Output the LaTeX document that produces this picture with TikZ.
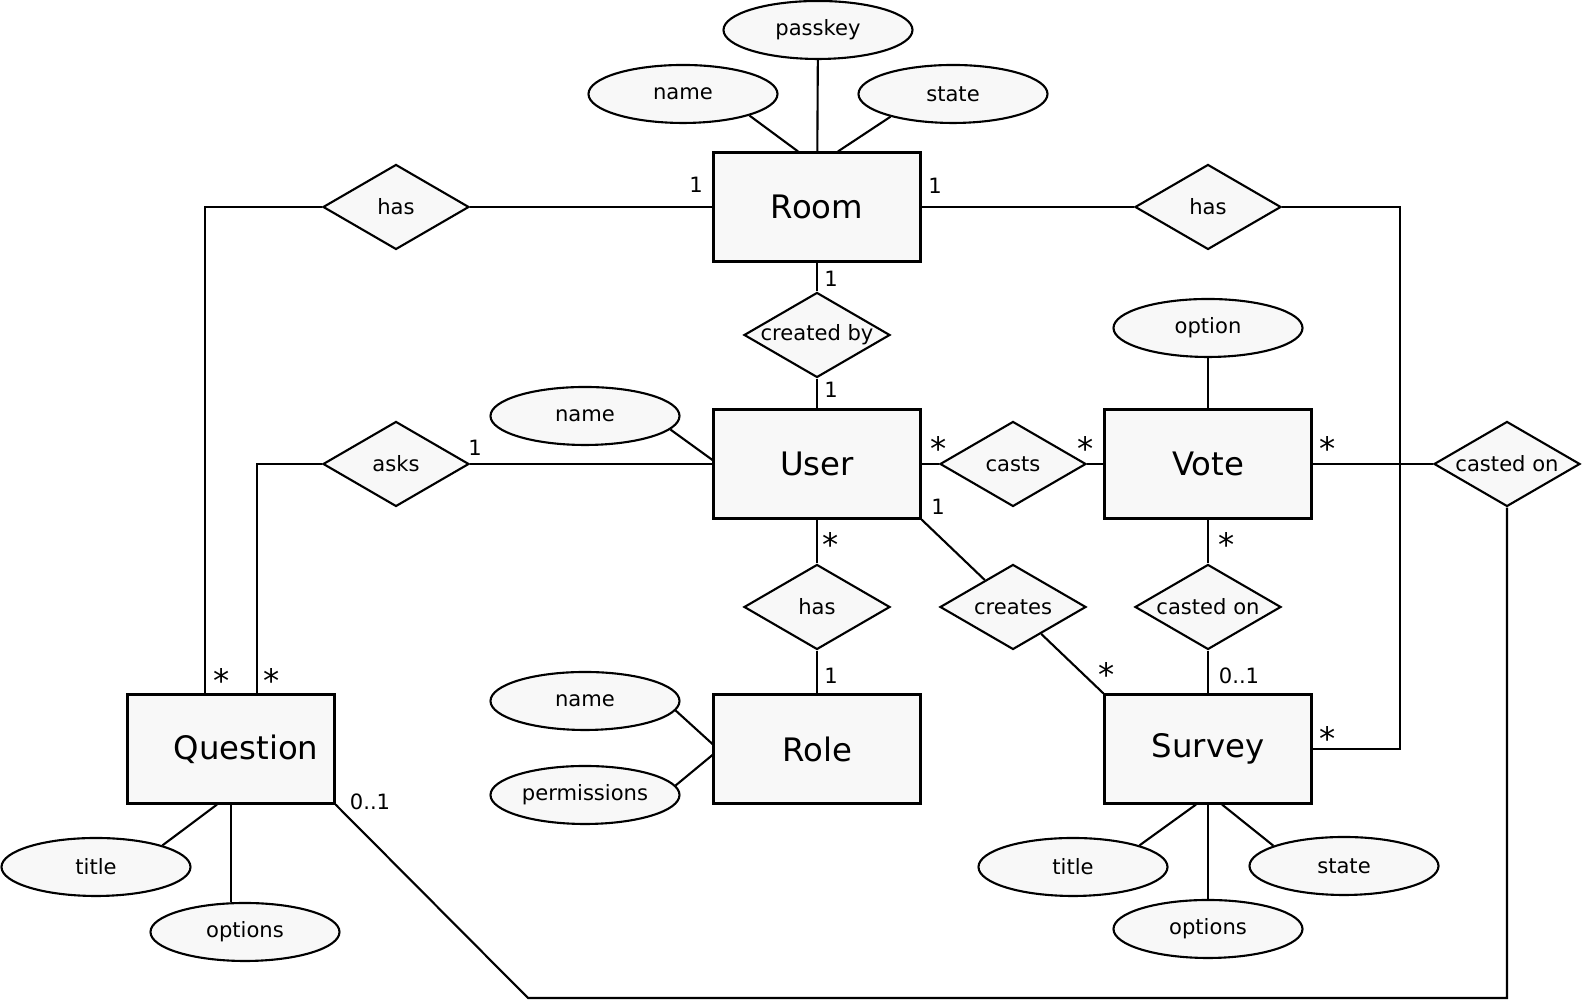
\documentclass[tikz,border=0pt]{standalone}
\usepackage{fontspec}
\setmainfont{DejaVu Sans}
\usetikzlibrary{shapes.geometric,calc}
\definecolor{boxfill}{HTML}{F8F8F8}

\begin{document}
\begin{tikzpicture}[line width=0.6pt,
	entity/.style={draw,fill=boxfill,rectangle,minimum width=2.07cm,minimum height=1.09cm,inner sep=0pt,font=\fontsize{9.2}{11}\selectfont},
	relation/.style={draw,fill=boxfill,diamond,minimum width=1.46cm,minimum height=0.85cm,inner sep=0pt,font=\fontsize{6}{7}\selectfont},
	attrib/.style={draw,fill=boxfill,ellipse,minimum width=1.89cm,minimum height=0.58cm,inner sep=0pt,font=\fontsize{6}{7}\selectfont},
	card/.style={inner sep=0pt,font=\fontsize{6}{7}\selectfont},
	many/.style={inner sep=0pt,font=\fontsize{9.2}{11}\selectfont}]
	\useasboundingbox (0,0) rectangle (15.82,10);

	%entities
	\node[entity] (room) at (8.17,7.93) {Room};
	\node[entity] (user) at (8.17,5.36) {User};
	\node[entity] (role) at (8.17,2.51) {Role};
	\node[entity] (vote) at (12.08,5.36) {Vote};
	\node[entity] (survey) at (12.08,2.51) {Survey};
	\node[entity] (question) at (2.31,2.51) {\hspace*{0.3cm}Question};

	%relations
	\node[relation] (hasq) at (3.96,7.93) {\makebox[0pt]{has}};
	\node[relation] (hass) at (12.08,7.93) {\makebox[0pt]{has}};
	\node[relation] (createdby) at (8.17,6.65) {\makebox[0pt]{created by}};
	\node[relation] (asks) at (3.96,5.36) {\makebox[0pt]{asks}};
	\node[relation] (casts) at (10.13,5.36) {\makebox[0pt]{casts}};
	\node[relation] (castedonq) at (15.07,5.36) {\makebox[0pt]{casted on}};
	\node[relation] (hasrole) at (8.17,3.93) {\makebox[0pt]{has}};
	\node[relation] (creates) at (10.13,3.93) {\makebox[0pt]{creates}};
	\node[relation] (castedons) at (12.08,3.93) {\makebox[0pt]{casted on}};

	%attributes
	\node[attrib] (rname) at (6.83,9.06) {name};
	\node[attrib] (passkey) at (8.18,9.70) {passkey};
	\node[attrib] (rstate) at (9.53,9.06) {state};
	\node[attrib] (uname) at (5.85,5.84) {name};
	\node[attrib] (rolename) at (5.85,2.99) {name};
	\node[attrib] (perms) at (5.85,2.05) {permissions};
	\node[attrib] (option) at (12.08,6.72) {option};
	\node[attrib] (qtitle) at (0.96,1.33) {title};
	\node[attrib] (qoptions) at (2.45,0.68) {options};
	\node[attrib] (stitle) at (10.73,1.33) {title};
	\node[attrib] (soptions) at (12.08,0.71) {options};
	\node[attrib] (sstate) at (13.44,1.34) {state};

	%attribute lines
	\draw (rname.-18) -- ($(room.north)+(-0.19,0)$);
	\draw (passkey) -- (room);
	\draw (rstate.200) -- ($(room.north)+(0.21,0)$);
	\draw (uname.-9) -- ($(user.west)+(0,0.04)$);
	\draw (rolename.-6) -- ($(role.west)+(0,0.05)$);
	\draw (perms.6) -- ($(role.west)+(0,-0.06)$);
	\draw (option) -- (vote);
	\draw (qtitle.18) -- ($(question.south)+(-0.14,0)$);
	\draw (question.south) -- (question.south |- qoptions.north);
	\draw (stitle.18) -- ($(survey.south)+(-0.12,0)$);
	\draw (survey) -- (soptions);
	\draw (sstate.164) -- ($(survey.south)+(0.14,0)$);

	%relation lines
	\draw (hasq) -- (room);
	\draw (hasq.west) -| ($(question.north west)!0.375!(question.north east)$);
	\draw (asks) -- (user);
	\draw (asks.west) -| ($(question.north west)!0.625!(question.north east)$);
	\draw (room) -- (hass);
	\draw (hass.east) -| ($(survey.east)+(0.875,0)$) -- (survey.east);
	\draw (room) -- (createdby) -- (user);
	\draw (user) -- (casts) -- (vote);
	\draw (vote) -- (castedonq);
	\coordinate (bend) at (5.28,0.02);
	\draw (castedonq.south) |- (bend) -- (question.south east);
	\draw (user) -- (hasrole) -- (role);
	\draw (user.south east) -- (creates) -- (survey.north west);
	\draw (vote) -- (castedons) -- (survey);

	%cardinalities
	\node[card] at (6.96,8.15) {1};
	\node[card] at (9.35,8.14) {1};
	\node[card] at (8.31,7.21) {1};
	\node[card] at (8.31,6.10) {1};
	\node[card] at (4.75,5.52) {1};
	\node[card] at (9.38,4.93) {1};
	\node[card] at (8.31,3.24) {1};
	\node[card] at (12.39,3.24) {0..1};
	\node[card] at (3.70,1.98) {0..1};
	\node[many] at (2.22,3.19) {*};
	\node[many] at (2.72,3.19) {*};
	\node[many] at (9.39,5.51) {*};
	\node[many] at (10.86,5.51) {*};
	\node[many] at (13.28,5.51) {*};
	\node[many] at (8.31,4.55) {*};
	\node[many] at (12.27,4.55) {*};
	\node[many] at (11.07,3.25) {*};
	\node[many] at (13.28,2.61) {*};
\end{tikzpicture}
\end{document}
